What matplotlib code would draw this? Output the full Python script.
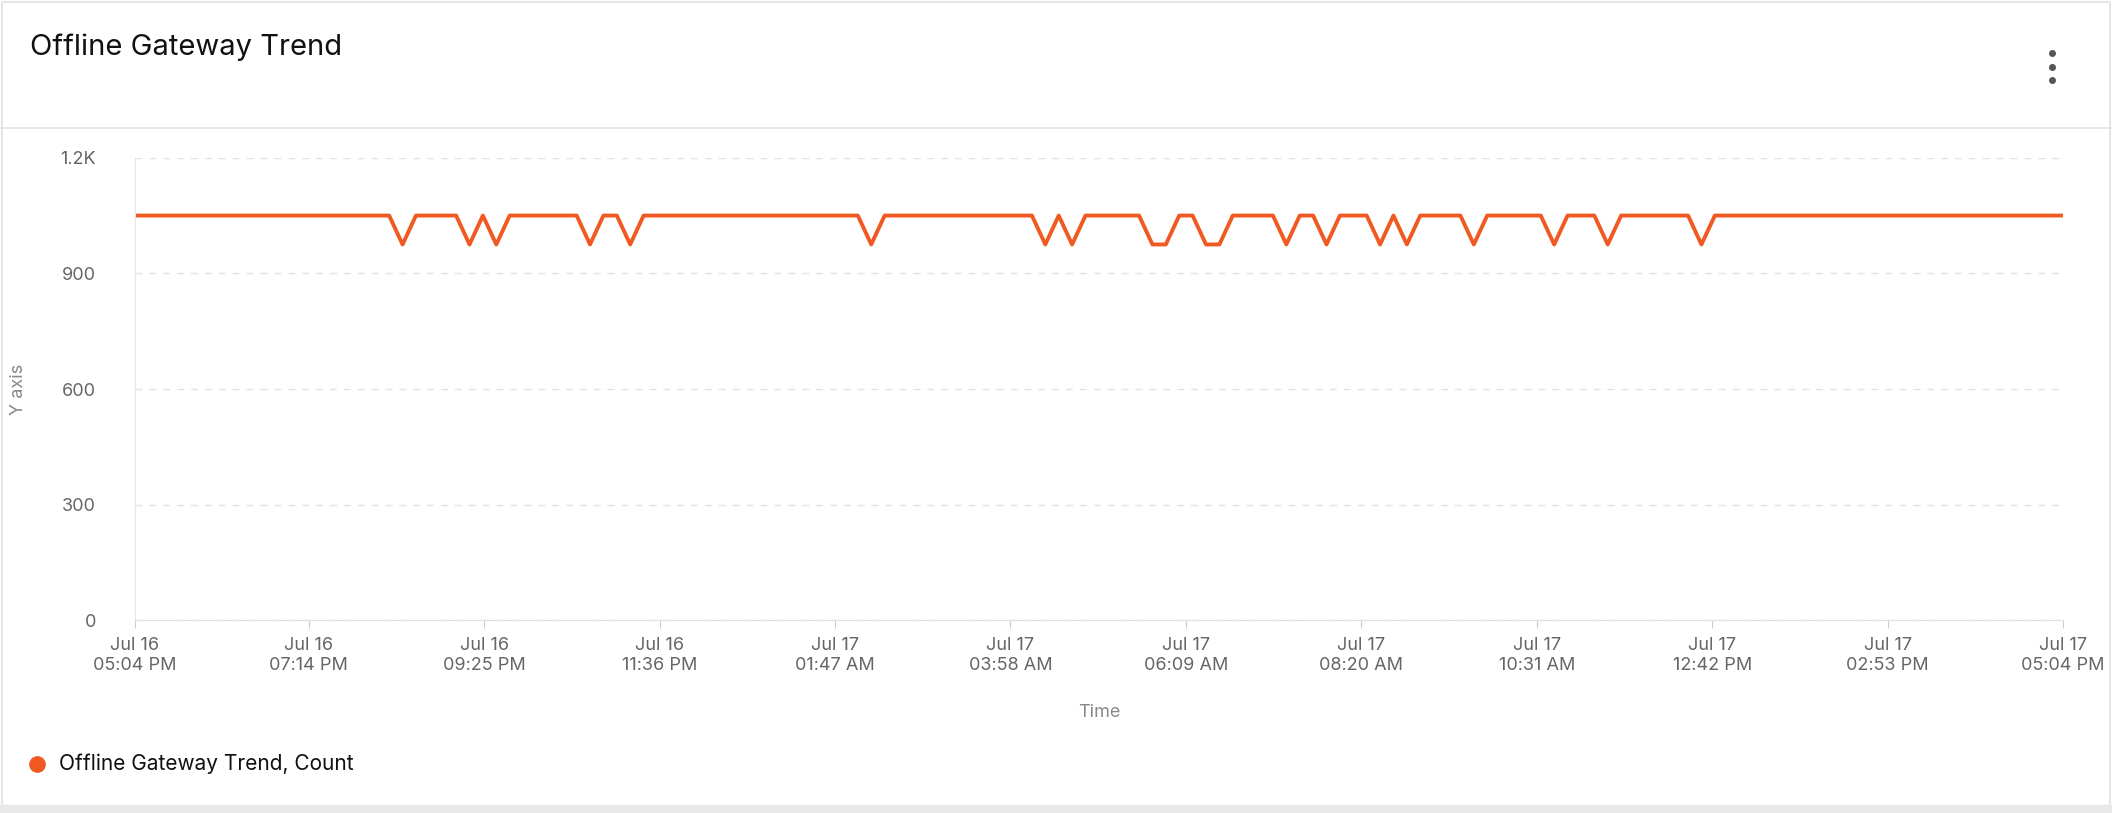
import numpy as np
import matplotlib.pyplot as plt
from matplotlib.patches import Rectangle
from matplotlib.lines import Line2D

# minutes since Jul 16 05:04 PM, sampled every 10 min
minutes = list(range(0, 1441, 10))
dip_minutes = [200, 250, 270, 340, 370, 550, 680, 700, 760, 770, 800, 810,
               860, 890, 930, 950, 1000, 1060, 1100, 1170]
high_value = 1050
low_value = 975
counts = [low_value if m in dip_minutes else high_value for m in minutes]

tick_minutes = [0, 130, 261, 392, 523, 654, 785, 916, 1047, 1178, 1309, 1440]
tick_labels = ['Jul 16\n05:04 PM', 'Jul 16\n07:14 PM', 'Jul 16\n09:25 PM', 'Jul 16\n11:36 PM',
               'Jul 17\n01:47 AM', 'Jul 17\n03:58 AM', 'Jul 17\n06:09 AM', 'Jul 17\n08:20 AM',
               'Jul 17\n10:31 AM', 'Jul 17\n12:42 PM', 'Jul 17\n02:53 PM', 'Jul 17\n05:04 PM']
y_ticks = [0, 300, 600, 900, 1200]
y_labels = ['0', '300', '600', '900', '1.2K']

orange = '#f05a22'
grey_text = '#666666'

plt.rcParams['font.family'] = ['Inter', 'DejaVu Sans']
fig = plt.figure(figsize=(21.12, 8.13), dpi=100)

# card frame, header separator, bottom band
fig.add_artist(Rectangle((0.001, 0.008), 0.998, 0.99, transform=fig.transFigure,
                         fill=False, edgecolor='#e6e6e6', lw=1.5))
fig.add_artist(Rectangle((0, 0), 1, 0.008, transform=fig.transFigure,
                         color='#e9e9e9', lw=0))
fig.add_artist(Line2D([0, 1], [0.843, 0.843], transform=fig.transFigure,
                      color='#e3e3e3', lw=1.2))
fig.text(0.014, 0.942, 'Offline Gateway Trend', fontsize=21, color='#111111', va='center')
for yy in [0.935, 0.918, 0.901]:
    fig.add_artist(Line2D([0.9715], [yy], transform=fig.transFigure, marker='o',
                          markersize=4, color='#555555'))

ax = fig.add_axes([0.0638, 0.237, 0.913, 0.569])
ax.plot(minutes, counts, color=orange, lw=2.8, solid_joinstyle='round')
ax.set_xlim(0, 1440)
ax.set_ylim(0, 1200)
ax.set_xticks(tick_minutes)
ax.set_xticklabels(tick_labels, fontsize=13, color=grey_text)
ax.set_yticks(y_ticks)
ax.set_yticklabels(y_labels, fontsize=13, color=grey_text)
ax.tick_params(axis='y', length=0, pad=28)
ax.tick_params(axis='x', length=6, color='#cccccc', pad=6)
ax.grid(axis='y', linestyle=(0, (5, 5)), color='#e2e2e2', lw=1)
for side in ['top', 'right']:
    ax.spines[side].set_visible(False)
ax.spines['left'].set_color('#e6e6e6')
ax.spines['bottom'].set_color('#e0e0e0')
ax.set_xlabel('Time', fontsize=13, color='#888888', labelpad=22)
ax.set_ylabel('Y axis', fontsize=13, color='#888888', labelpad=10)
ax.yaxis.set_label_coords(-0.056, 0.5)

fig.add_artist(Line2D([0.0175], [0.06], transform=fig.transFigure, marker='o',
                      markersize=11, color=orange))
fig.text(0.028, 0.06, 'Offline Gateway Trend, Count', fontsize=15, color='#111111', va='center')

fig.savefig('out.png', dpi=100)
